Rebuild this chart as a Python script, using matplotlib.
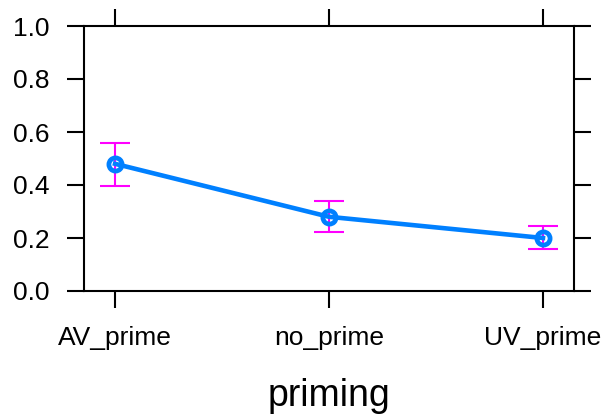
import numpy as np
import matplotlib.pyplot as plt

plt.rcParams['font.family'] = ['Liberation Sans', 'DejaVu Sans']

# effect estimates for priming with confidence limits
categories = ['AV_prime', 'no_prime', 'UV_prime']
fit = [0.48, 0.28, 0.20]
lower = [0.395, 0.224, 0.158]
upper = [0.558, 0.340, 0.245]
y_ticks = [0.0, 0.2, 0.4, 0.6, 0.8, 1.0]

x = np.arange(len(categories))
fit = np.array(fit)
err = [fit - np.array(lower), np.array(upper) - fit]

fig = plt.figure(figsize=(6.02, 4.2), dpi=100)
ax = fig.add_axes([84 / 602, 1 - 291 / 420, 490 / 602, 265 / 420])

ax.errorbar(x, fit, yerr=err, fmt='none', ecolor='#FF00FF', elinewidth=1.5,
            capsize=11, capthick=1.5, zorder=2)
ax.plot(x, fit, color='#0080FF', lw=3.3, zorder=3)
ax.plot(x, fit, 'o', mfc='none', mec='#0080FF', mew=3.4, ms=9.5, zorder=4)

ax.set_xlim(-0.145, 2.145)
ax.set_ylim(0, 1)
ax.set_xticks(x)
ax.set_xticklabels(categories)
ax.set_yticks(y_ticks)
ax.set_yticklabels([f'{v:.1f}' for v in y_ticks])

for s in ax.spines.values():
    s.set_linewidth(1.5)
ax.tick_params(axis='both', which='both', direction='out', length=12, width=1.5,
               labelsize=19, top=True, right=True, labeltop=False, labelright=False)
ax.tick_params(axis='x', pad=13)
ax.tick_params(axis='y', pad=13)

ax.set_xlabel('priming', fontsize=27, labelpad=20)

fig.savefig('out.png', dpi=100)
